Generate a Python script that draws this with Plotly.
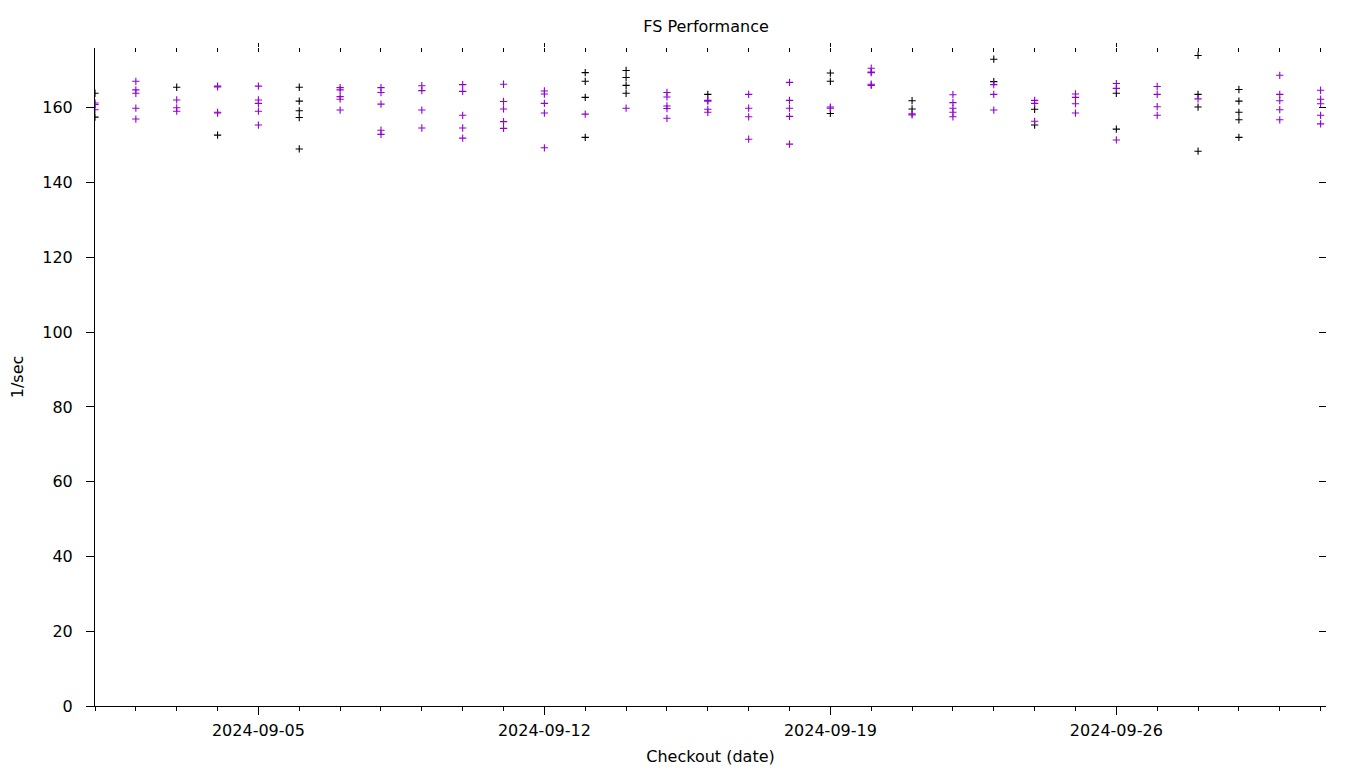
import plotly.graph_objects as go

# ---- data ----
dates = [
    "2024-09-01", "2024-09-02", "2024-09-03", "2024-09-04", "2024-09-05",
    "2024-09-06", "2024-09-07", "2024-09-08", "2024-09-09", "2024-09-10",
    "2024-09-11", "2024-09-12", "2024-09-13", "2024-09-14", "2024-09-15",
    "2024-09-16", "2024-09-17", "2024-09-18", "2024-09-19", "2024-09-20",
    "2024-09-21", "2024-09-22", "2024-09-23", "2024-09-24", "2024-09-25",
    "2024-09-26", "2024-09-27", "2024-09-28", "2024-09-29", "2024-09-30",
    "2024-10-01",
]

black_vals = [
    [163.9, 157.5], [], [165.5], [152.7], [],
    [165.5, 161.8, 159.2, 157.4, 149.0], [], [], [], [],
    [], [], [169.4, 167.1, 162.8, 152.1], [170.0, 168.1, 166.0, 163.9], [],
    [163.6], [], [], [169.3, 167.1, 158.5], [],
    [161.9, 159.7], [], [173.0, 167.0], [159.6, 155.4], [],
    [163.9, 154.3], [], [174.0, 163.6, 160.2, 148.4], [164.9, 161.8, 158.8, 156.8, 152.1], [],
    [],
]

purple_vals = [
    [161.3, 160.9, 159.5], [167.1, 164.8, 163.9, 159.9, 157.0], [162.1, 160.0, 159.1],
    [165.8, 165.6, 158.8, 158.6], [165.8, 162.1, 161.2, 159.1, 155.4],
    [], [165.4, 164.8, 163.0, 162.3, 159.4], [165.4, 164.1, 161.0, 154.0, 152.9],
    [165.9, 164.6, 159.4, 154.6], [166.2, 164.4, 158.0, 154.6, 151.9],
    [166.3, 161.7, 159.7, 156.3, 154.5], [164.5, 163.7, 161.2, 158.6, 149.3], [158.3],
    [159.9], [164.1, 162.9, 160.5, 159.8, 157.2],
    [162.0, 161.8, 159.6, 158.8], [163.6, 159.9, 157.6, 151.6], [166.8, 162.0, 159.9, 157.7, 150.3],
    [160.2, 159.9], [170.6, 169.6, 169.4, 166.3, 166.0],
    [158.4, 158.1], [163.5, 161.4, 159.9, 158.8, 157.6], [166.2, 163.6, 159.4],
    [162.0, 161.2, 156.4], [163.7, 162.8, 161.1, 158.6],
    [166.5, 165.2, 151.4], [165.7, 163.6, 160.3, 158.0], [162.4],
    [], [168.7, 163.6, 161.9, 159.5, 156.8], [164.7, 162.3, 161.1, 158.0, 155.7],
]

title_text = "FS Performance"
x_title = "Checkout (date)"
y_title = "1/sec"
x_range = ["2024-09-01 00:00", "2024-10-01 03:10"]
y_range = [0, 176]

DAY = 86400000


def flatten(vals):
    xs, ys = [], []
    for d, vs in zip(dates, vals):
        for v in vs:
            xs.append(d)
            ys.append(v)
    return xs, ys


fig = go.Figure()
for vals, color in [(black_vals, "#000000"), (purple_vals, "#9400D3")]:
    xs, ys = flatten(vals)
    fig.add_trace(go.Scatter(
        x=xs, y=ys, mode="markers",
        marker=dict(symbol="cross-thin", size=5.2, color=color,
                    line=dict(color=color, width=1.1)),
        hoverinfo="x+y",
    ))

# empty traces so that the mirrored tick axes (top / right) get drawn
fig.add_trace(go.Scatter(x=[], y=[], xaxis="x2", yaxis="y2", hoverinfo="skip"))
fig.add_trace(go.Scatter(x=[], y=[], xaxis="x3", yaxis="y", hoverinfo="skip"))

font_family = "DejaVu Sans, Liberation Sans, sans-serif"
FS = 16
W, H = 1352, 760  # page body has an 8px margin in the browser

fig.update_layout(
    width=W, height=H,
    margin=dict(l=87, r=34, t=40, b=62, autoexpand=False),
    paper_bgcolor="white", plot_bgcolor="white",
    showlegend=False,
    font=dict(family=font_family, size=FS, color="black"),
    title=dict(text=title_text, x=698 / W, y=1 - 18 / H,
               xref="container", yref="container",
               xanchor="center", yanchor="middle",
               font=dict(family=font_family, size=FS, color="black")),
    xaxis=dict(
        type="date", range=x_range, automargin=False,
        showline=True, linecolor="black", linewidth=1,
        ticks="outside", ticklen=8, tickcolor="black", tickwidth=1,
        tick0="2024-09-05", dtick=7 * DAY, tickformat="%Y-%m-%d",
        tickfont=dict(size=FS),
        minor=dict(tick0="2024-09-01", dtick=DAY, ticks="outside",
                   ticklen=4, tickcolor="black", tickwidth=1, showgrid=False),
        showgrid=False, zeroline=False,
        title=dict(text=x_title, standoff=11, font=dict(size=FS)),
        ticklabelstandoff=2,
    ),
    xaxis2=dict(
        type="date", range=x_range, overlaying="x", side="top", anchor="y2",
        automargin=False,
        showline=False, ticks="inside", ticklen=4, tickcolor="black",
        tick0="2024-09-01", dtick=DAY, showticklabels=False,
        showgrid=False, zeroline=False,
    ),
    xaxis3=dict(
        type="date", range=x_range, overlaying="x", side="top", anchor="y",
        automargin=False,
        showline=False, ticks="outside", ticklen=4, tickcolor="black",
        tick0="2024-09-05", dtick=7 * DAY, showticklabels=False,
        showgrid=False, zeroline=False,
    ),
    yaxis=dict(
        range=y_range, dtick=20, tick0=0, automargin=False,
        showline=True, linecolor="black", linewidth=1,
        ticks="outside", ticklen=8, tickcolor="black",
        tickfont=dict(size=FS),
        showgrid=False, zeroline=False,
        title=dict(text=y_title, standoff=14, font=dict(size=FS)),
        ticklabelstandoff=10,
    ),
    yaxis2=dict(
        range=y_range, dtick=20, tick0=0, overlaying="y", side="right", anchor="x2",
        automargin=False,
        showline=False, ticks="inside", ticklen=7, tickcolor="black",
        showticklabels=False, showgrid=False, zeroline=False,
    ),
)

fig.write_html("out.html")
